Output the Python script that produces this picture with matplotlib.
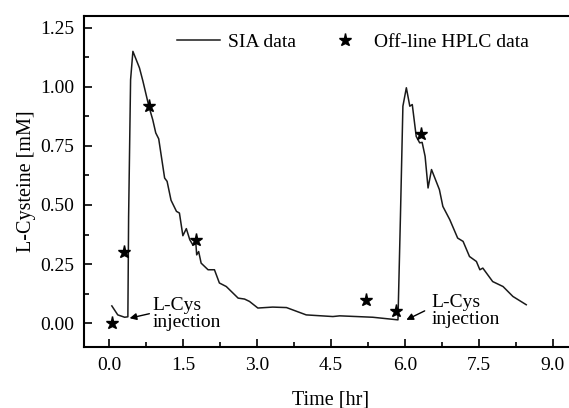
import matplotlib
matplotlib.use('Agg')
import matplotlib.pyplot as plt
from matplotlib.ticker import MultipleLocator, FormatStrFormatter

plt.rcParams['font.family'] = ['Liberation Serif', 'DejaVu Serif']

# SIA (on-line) trace
sia_time = [0.06, 0.18, 0.32, 0.385, 0.40, 0.44, 0.487, 0.62, 0.69, 0.81, 0.89, 0.95, 1.01,
            1.13, 1.18, 1.26, 1.37, 1.43, 1.50, 1.57, 1.64, 1.70, 1.76, 1.78, 1.82, 1.87, 2.01,
            2.14, 2.24, 2.38, 2.62, 2.75, 2.85, 3.02, 3.32, 3.60, 4.00, 4.54, 4.68, 5.02, 5.35,
            5.86, 5.91, 5.96, 6.03, 6.10, 6.15, 6.23, 6.30, 6.35, 6.41, 6.47, 6.54, 6.70, 6.77,
            6.91, 7.07, 7.18, 7.31, 7.45, 7.52, 7.58, 7.78, 7.99, 8.19, 8.46]
sia_conc = [0.073, 0.035, 0.025, 0.027, 0.45, 1.03, 1.15, 1.08, 1.024, 0.918, 0.86, 0.805, 0.78,
            0.614, 0.60, 0.52, 0.473, 0.466, 0.37, 0.40, 0.353, 0.332, 0.346, 0.289, 0.303, 0.254, 0.226,
            0.226, 0.17, 0.155, 0.106, 0.102, 0.092, 0.064, 0.068, 0.066, 0.035, 0.028, 0.031, 0.028, 0.025,
            0.014, 0.45, 0.918, 0.996, 0.918, 0.925, 0.79, 0.763, 0.765, 0.706, 0.572, 0.65, 0.565, 0.494,
            0.438, 0.36, 0.346, 0.282, 0.261, 0.226, 0.233, 0.176, 0.155, 0.113, 0.078]

# off-line HPLC samples
hplc_time = [0.06, 0.30, 0.81, 1.76, 5.22, 5.83, 6.33]
hplc_conc = [0.0, 0.30, 0.92, 0.35, 0.10, 0.05, 0.80]

fig = plt.figure(figsize=(5.69, 4.08), dpi=100)
ax = fig.add_axes([0.148, 0.150, 0.867, 0.811])

ax.plot(sia_time, sia_conc, color='#1a1a1a', lw=1.1, label='SIA data')
ax.plot(hplc_time, hplc_conc, ls='none', marker='*', ms=9.5, color='black', label='Off-line HPLC data')

ax.set_xlim(-0.5, 9.5)
ax.set_ylim(-0.1, 1.3)
ax.set_xticks([0.0, 1.5, 3.0, 4.5, 6.0, 7.5, 9.0])
ax.set_yticks([0.0, 0.25, 0.5, 0.75, 1.0, 1.25])
ax.xaxis.set_minor_locator(MultipleLocator(0.75))
ax.yaxis.set_minor_locator(MultipleLocator(0.125))
ax.xaxis.set_major_formatter(FormatStrFormatter('%.1f'))
ax.yaxis.set_major_formatter(FormatStrFormatter('%.2f'))
ax.tick_params(which='both', direction='in', top=False, right=False, labelsize=14, width=1.2)
ax.tick_params(which='major', length=6, pad=7)
ax.tick_params(which='minor', length=3.5)
for s in ax.spines.values():
    s.set_linewidth(1.5)

ax.set_xlabel('Time [hr]', fontsize=14.5, labelpad=12)
ax.set_ylabel('L-Cysteine [mM]', fontsize=14.5, labelpad=3)

ax.legend(loc='upper center', bbox_to_anchor=(0.545, 1.0), ncol=2, frameon=False, fontsize=14,
          handlelength=2.2, columnspacing=1.4, handletextpad=0.4)

ax.annotate('L-Cys\ninjection', xy=(0.42, 0.021), xytext=(0.89, 0.04), fontsize=14,
            ha='left', va='center', linespacing=1.0,
            arrowprops=dict(arrowstyle='-|>', color='black', lw=1.0, shrinkA=0, shrinkB=0, mutation_scale=10,
                            relpos=(-0.05, 0.5)))
ax.annotate('L-Cys\ninjection', xy=(6.03, 0.014), xytext=(6.54, 0.052), fontsize=14,
            ha='left', va='center', linespacing=1.0,
            arrowprops=dict(arrowstyle='-|>', color='black', lw=1.0, shrinkA=0, shrinkB=0, mutation_scale=10,
                            relpos=(-0.1, 0.5)))

fig.savefig('out.png', dpi=100)
